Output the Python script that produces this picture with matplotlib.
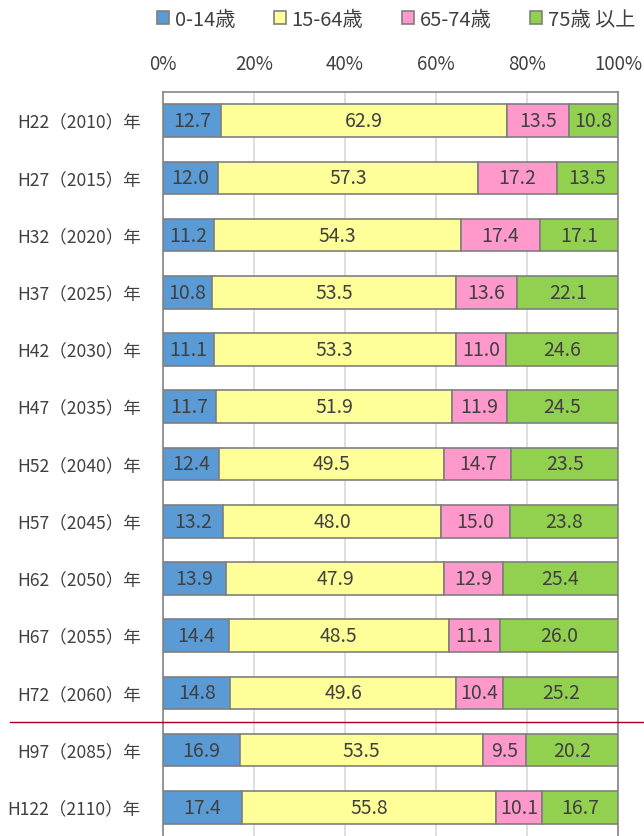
import numpy as np
import matplotlib
matplotlib.use("Agg")
import matplotlib.pyplot as plt
from matplotlib.transforms import blended_transform_factory

plt.rcParams['font.family'] = ['Noto Sans CJK JP', 'DejaVu Sans']

# --- data ---
years = ['H22（2010）年', 'H27（2015）年', 'H32（2020）年', 'H37（2025）年',
         'H42（2030）年', 'H47（2035）年', 'H52（2040）年', 'H57（2045）年',
         'H62（2050）年', 'H67（2055）年', 'H72（2060）年', 'H97（2085）年',
         'H122（2110）年']
age_0_14 = [12.7, 12.0, 11.2, 10.8, 11.1, 11.7, 12.4, 13.2, 13.9, 14.4, 14.8, 16.9, 17.4]
age_15_64 = [62.9, 57.3, 54.3, 53.5, 53.3, 51.9, 49.5, 48.0, 47.9, 48.5, 49.6, 53.5, 55.8]
age_65_74 = [13.5, 17.2, 17.4, 13.6, 11.0, 11.9, 14.7, 15.0, 12.9, 11.1, 10.4, 9.5, 10.1]
age_75_up = [10.8, 13.5, 17.1, 22.1, 24.6, 24.5, 23.5, 23.8, 25.4, 26.0, 25.2, 20.2, 16.7]
series_labels = ['0-14歳', '15-64歳', '65-74歳', '75歳 以上']
x_ticks = [0, 20, 40, 60, 80, 100]

colors = ['#5b9bd5', '#ffff99', '#ff99cc', '#92d050']
text_color = '#404040'

series = np.array([age_0_14, age_15_64, age_65_74, age_75_up])
totals = series.sum(axis=0)
shares = series / totals * 100  # 100% stacked

fig = plt.figure(figsize=(6.44, 8.37), dpi=100)
ax = fig.add_axes([163 / 644, 0.0, (618 - 163) / 644, 1 - 93 / 837])

y = np.arange(len(years))
left = np.zeros(len(years))
for vals, share, color, label in zip(series, shares, colors, series_labels):
    ax.barh(y, share, left=left, height=0.57, color=color,
            edgecolor='#7f7f7f', linewidth=1.2, label=label, zorder=3)
    for yi, l, s, v in zip(y, left, share, vals):
        ax.text(l + s / 2, yi, f'{v:.1f}', ha='center', va='center',
                fontsize=14, color=text_color, zorder=4)
    left += share

# --- axes styling ---
ax.set_xlim(0, 100)
ax.set_ylim(len(years) - 0.5, -0.5)
ax.set_yticks(y)
ax.set_yticklabels(years, fontsize=12.6, color=text_color)
ax.set_xticks(x_ticks)
ax.set_xticklabels([f'{t}%' for t in x_ticks], fontsize=13.5, color=text_color)
ax.xaxis.tick_top()
ax.tick_params(axis='x', length=0, pad=13)
ax.tick_params(axis='y', length=0, pad=16)
ax.grid(axis='x', color='#d9d9d9', linewidth=1.2, zorder=0)
for side in ['top', 'right', 'left']:
    ax.spines[side].set_color('#868686')
    ax.spines[side].set_linewidth(1.2)
ax.spines['bottom'].set_visible(False)

# --- separator line between H72 and H97 ---
trans = blended_transform_factory(fig.transFigure, ax.transData)
ax.plot([10 / 644, 1.0], [10.5, 10.5], color='#a50021', linewidth=1,
        transform=trans, clip_on=False, zorder=5)

# --- legend ---
fig.legend(loc='center', bbox_to_anchor=(0.615, 0.976), ncol=4,
           frameon=False, fontsize=14.5, handlelength=0.6, handleheight=0.6,
           handletextpad=0.3, columnspacing=1.9, labelcolor=text_color)

fig.savefig('out.png', dpi=100)
